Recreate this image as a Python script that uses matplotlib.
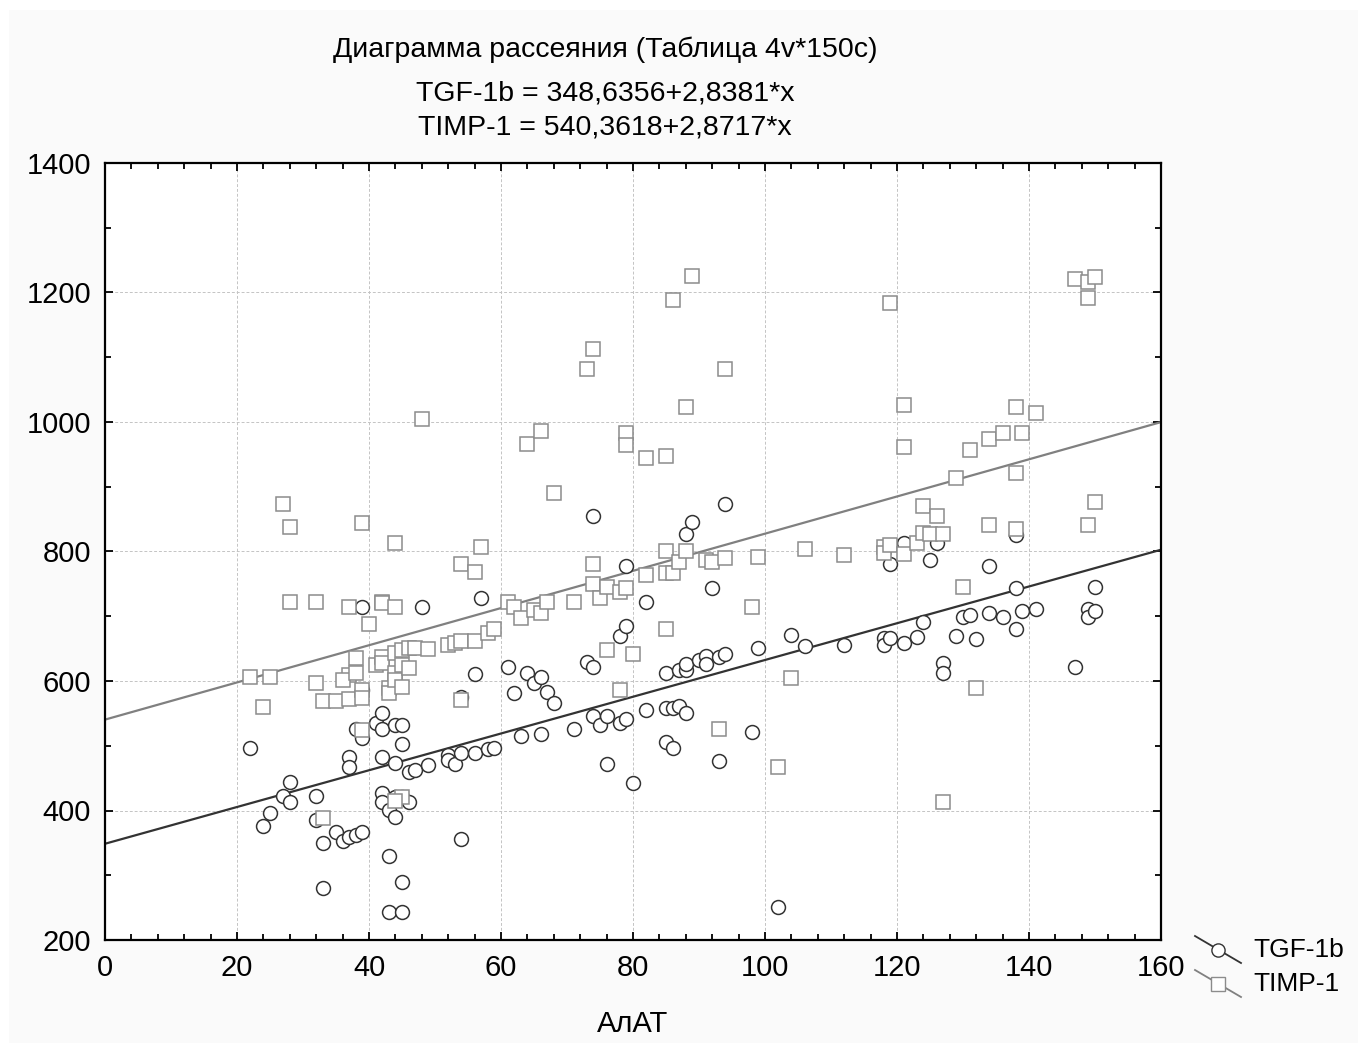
import matplotlib
matplotlib.use('Agg')
import matplotlib.pyplot as plt
import numpy as np
from matplotlib.lines import Line2D
from matplotlib.patches import Rectangle

plt.rcParams['font.family'] = ['Liberation Sans', 'DejaVu Sans']

# данные: АлАТ и TGF-1b (кружки)
tgf_x = [22, 24, 25, 27, 28, 28, 32, 32, 33, 33, 35, 36, 37, 38, 39, 37, 37, 38, 39, 39,
         39, 41, 42, 42, 42, 42, 42, 43, 43, 43, 44, 45, 45, 44, 44, 44, 45, 45, 45, 46,
         46, 47, 48, 49, 52, 52, 53, 54, 54, 54, 56, 56, 57, 58, 59, 61, 62, 63, 64, 65,
         66, 66, 67, 68, 71, 73, 74, 74, 74, 75, 76, 76, 78, 78, 79, 79, 79, 80, 82, 82,
         85, 85, 85, 86, 86, 87, 87, 88, 88, 88, 88, 89, 90, 91, 91, 92, 93, 93, 94, 94,
         98, 99, 102, 104, 106, 112, 118, 118, 119, 119, 121, 121, 123, 124, 125, 126, 127, 127, 129, 130,
         131, 132, 134, 134, 136, 138, 138, 138, 139, 141, 147, 149, 149, 150, 150]
tgf_y = [497, 376, 396, 422, 413, 444, 422, 385, 350, 280, 367, 353, 359, 362, 367, 483, 467, 526, 512, 586,
         714, 535, 550, 526, 483, 427, 413, 401, 330, 243, 532, 532, 503, 474, 421, 390, 421, 289, 243, 413,
         459, 462, 714, 470, 486, 478, 472, 489, 576, 356, 489, 611, 728, 495, 497, 622, 581, 515, 612, 597,
         606, 518, 583, 566, 526, 629, 622, 546, 855, 532, 546, 472, 535, 670, 541, 685, 778, 442, 722, 555,
         612, 558, 506, 558, 497, 561, 617, 617, 627, 551, 827, 846, 632, 639, 626, 744, 637, 476, 642, 873,
         521, 651, 251, 671, 654, 656, 666, 656, 666, 781, 659, 813, 668, 691, 787, 813, 628, 612, 670, 699,
         702, 665, 705, 778, 699, 680, 744, 825, 708, 711, 622, 711, 699, 708, 745]

# TIMP-1 (квадраты)
timp_x = [22, 25, 24, 27, 28, 28, 32, 32, 33, 33, 35, 37, 37, 37, 36, 38, 38, 39, 39, 39,
          39, 40, 41, 42, 42, 42, 42, 43, 43, 44, 44, 44, 44, 44, 45, 45, 45, 45, 44, 46,
          46, 47, 48, 49, 52, 53, 54, 54, 54, 56, 56, 57, 58, 59, 61, 62, 63, 64, 65, 66,
          66, 67, 68, 71, 73, 74, 74, 74, 75, 76, 76, 78, 78, 79, 79, 79, 80, 82, 82, 85,
          85, 85, 85, 86, 86, 87, 88, 88, 89, 91, 92, 93, 94, 94, 98, 99, 102, 104, 106, 112,
          118, 118, 119, 119, 121, 121, 121, 123, 124, 124, 125, 126, 127, 127, 129, 130, 131, 132, 134, 134,
          136, 138, 138, 138, 139, 141, 147, 149, 149, 150, 149, 150]
timp_y = [606, 606, 560, 873, 838, 722, 722, 597, 569, 388, 569, 572, 714, 609, 601, 636, 612, 586, 574, 524,
          844, 688, 625, 722, 720, 637, 628, 589, 581, 813, 714, 643, 612, 601, 648, 625, 591, 421, 415, 651,
          620, 651, 1005, 649, 656, 659, 662, 781, 571, 768, 662, 807, 674, 680, 722, 714, 697, 966, 710, 705,
          986, 722, 890, 722, 1082, 1113, 781, 750, 728, 745, 648, 738, 586, 744, 983, 965, 642, 944, 764, 947,
          801, 767, 680, 1188, 767, 784, 801, 1023, 1225, 787, 784, 526, 790, 1082, 714, 792, 467, 604, 804, 795,
          807, 797, 1184, 810, 1026, 961, 796, 813, 870, 829, 827, 855, 827, 413, 913, 745, 957, 589, 974, 841,
          983, 1023, 921, 835, 983, 1014, 1221, 1216, 1191, 1224, 841, 876]

# коэффициенты регрессии
tgf_a, tgf_b = 348.6356, 2.8381
timp_a, timp_b = 540.3618, 2.8717

fig = plt.figure(figsize=(13.58, 10.43), dpi=100, facecolor='#fafafa')
fig.patches.append(Rectangle((0, 1 - 10 / 1043), 1, 10 / 1043, transform=fig.transFigure,
                             facecolor='white', edgecolor='none', zorder=0))
fig.patches.append(Rectangle((0, 0), 9 / 1358, 1, transform=fig.transFigure,
                             facecolor='white', edgecolor='none', zorder=0))

ax = fig.add_axes([105 / 1358, 1 - 940 / 1043, (1161 - 105) / 1358, (940 - 163) / 1043])
ax.set_facecolor('white')

xx = np.array([0, 160])
ax.plot(xx, tgf_a + tgf_b * xx, color='#333333', lw=1.6, zorder=2)
ax.plot(xx, timp_a + timp_b * xx, color='#808080', lw=1.6, zorder=2)

ax.plot(tgf_x, tgf_y, 'o', ms=10, mfc='white', mec='#333333', mew=1.1, ls='none', zorder=3)
ax.plot(timp_x, timp_y, 's', ms=9.5, mfc='white', mec='#8c8c8c', mew=1.1, ls='none', zorder=4)

ax.set_xlim(0, 160)
ax.set_ylim(200, 1400)
ax.set_xticks(np.arange(0, 161, 20))
ax.set_xticks(np.arange(0, 161, 4), minor=True)
ax.set_yticks(np.arange(200, 1401, 200))
ax.set_yticks(np.arange(200, 1401, 100), minor=True)
ax.grid(True, which='major', color='#c4c4c4', ls=(0, (3, 2)), lw=0.7, zorder=0)
ax.tick_params(which='both', direction='in', top=True, right=True, width=1.3, colors='black',
               labelsize=21)
ax.tick_params(which='major', length=6, pad=10)
ax.tick_params(which='minor', length=4)
for s in ax.spines.values():
    s.set_linewidth(1.6)

ax.set_xlabel('АлАТ', fontsize=21, labelpad=20)

fig.text(605 / 1358, 1 - 50 / 1043, 'Диаграмма рассеяния (Таблица 4v*150c)',
         ha='center', va='center', fontsize=20.5)
fig.text(605 / 1358, 1 - 93 / 1043, 'TGF-1b = 348,6356+2,8381*x',
         ha='center', va='center', fontsize=20.5)
fig.text(605 / 1358, 1 - 127 / 1043, 'TIMP-1 = 540,3618+2,8717*x',
         ha='center', va='center', fontsize=20.5)

# легенда в стиле Statistica
def fx(px):
    return px / 1358

def fy(py):
    return 1 - py / 1043

for (y0, col, mk, mec, label) in [(936, '#333333', 'o', '#333333', 'TGF-1b'),
                                   (970, '#808080', 's', '#8c8c8c', 'TIMP-1')]:
    fig.add_artist(Line2D([fx(1195), fx(1241)], [fy(y0), fy(y0 + 27)], color=col, lw=1.3))
    fig.add_artist(Line2D([fx(1218)], [fy(y0 + 13.5)], marker=mk, ms=9.5, mfc='white',
                          mec=mec, mew=1.0, ls='none'))
    fig.text(fx(1253), fy(y0 + 14), label, ha='left', va='center', fontsize=19)

fig.savefig('out.png', dpi=100, facecolor=fig.get_facecolor())
